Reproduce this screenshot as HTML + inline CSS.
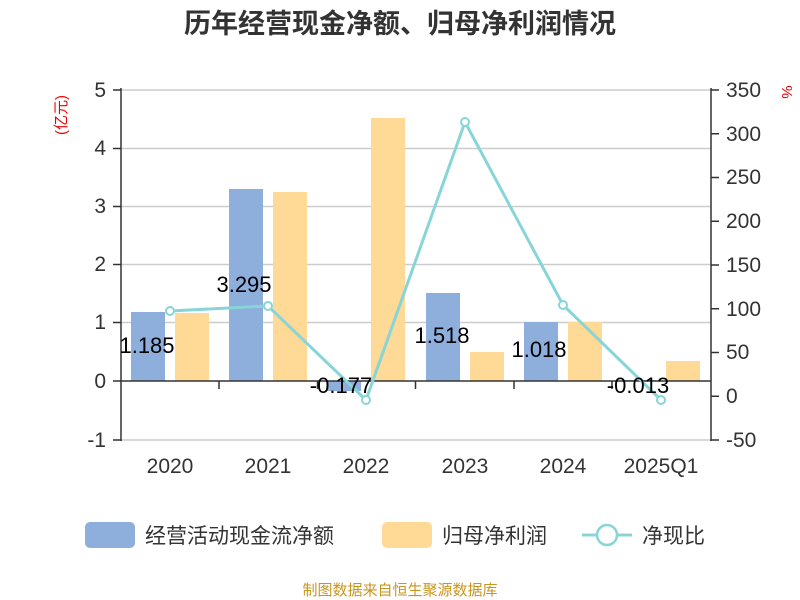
<!DOCTYPE html>
<html><head><meta charset="utf-8"><style>
body{margin:0;background:#fff;}
svg{display:block;font-family:"Liberation Sans","Noto Sans CJK SC",sans-serif;}
</style></head><body>
<svg width="800" height="600" viewBox="0 0 800 600">
<text x="400" y="33" text-anchor="middle" font-size="27" font-weight="bold" fill="#333">历年经营现金净额、归母净利润情况</text>
<g stroke="#ccc" stroke-width="1.5">
<line x1="121" x2="711" y1="90" y2="90"/><line x1="121" x2="711" y1="148.5" y2="148.5"/>
<line x1="121" x2="711" y1="206.5" y2="206.5"/><line x1="121" x2="711" y1="264.5" y2="264.5"/>
<line x1="121" x2="711" y1="322.5" y2="322.5"/><line x1="121" x2="711" y1="440" y2="440"/>
</g>
<g fill="#8eaedb">
<rect x="131" y="312" width="34" height="69"/><rect x="229" y="189" width="34" height="192"/>
<rect x="327" y="381" width="34" height="10"/><rect x="426" y="293" width="34" height="88"/>
<rect x="524" y="322" width="34" height="59"/><rect x="622" y="380" width="34" height="1"/>
</g>
<g fill="#ffd996">
<rect x="175" y="313" width="34" height="68"/><rect x="273" y="192" width="34" height="189"/>
<rect x="371" y="118" width="34" height="263"/><rect x="470" y="352" width="34" height="29"/>
<rect x="568" y="322" width="34" height="59"/><rect x="666" y="361" width="34" height="20"/>
</g>
<g stroke="#333" stroke-width="1.5" fill="none">
<line x1="121" y1="88" x2="121" y2="441"/><line x1="711" y1="88" x2="711" y2="441"/>
<line x1="121" y1="381" x2="711" y2="381"/>
<path d="M113 90H121M113 148.5H121M113 206.5H121M113 264.5H121M113 322.5H121M113 381H121M113 440H121"/>
<path d="M711 90H719M711 133.75H719M711 177.5H719M711 221.25H719M711 265H719M711 308.75H719M711 352.5H719M711 396.25H719M711 440H719"/>
<path d="M219 381V389M317.5 381V389M415.5 381V389M514 381V389M612 381V389"/>
</g>
<g font-size="21" fill="#333" text-anchor="end">
<text x="106" y="97">5</text><text x="106" y="155">4</text><text x="106" y="213">3</text>
<text x="106" y="271">2</text><text x="106" y="329">1</text><text x="106" y="388">0</text><text x="106" y="447">-1</text>
</g>
<g font-size="21" fill="#333" text-anchor="start">
<text x="726" y="97">350</text><text x="726" y="141">300</text><text x="726" y="184">250</text>
<text x="726" y="228">200</text><text x="726" y="272">150</text><text x="726" y="316">100</text>
<text x="726" y="359">50</text><text x="726" y="403">0</text><text x="726" y="447">-50</text>
</g>
<g font-size="21" fill="#333" text-anchor="middle">
<text x="170" y="473">2020</text><text x="268" y="473">2021</text><text x="366" y="473">2022</text>
<text x="465" y="473">2023</text><text x="563" y="473">2024</text><text x="661" y="473">2025Q1</text>
</g>
<text transform="translate(66,115) rotate(-90)" font-size="15" fill="#e00" text-anchor="middle">(亿元)</text>
<text transform="translate(782,92) rotate(90)" font-size="15" fill="#e00" text-anchor="middle">%</text>
<polyline points="170,311 268,306 366,400 465,122 563,305 661,400" fill="none" stroke="#88d5d8" stroke-width="3"/>
<g fill="#fff" stroke="#88d5d8" stroke-width="2">
<circle cx="170" cy="311" r="4"/><circle cx="268" cy="306" r="4"/><circle cx="366" cy="400" r="4"/>
<circle cx="465" cy="122" r="4"/><circle cx="563" cy="305" r="4"/><circle cx="661" cy="400" r="4"/>
</g>
<g font-size="22" fill="#000" text-anchor="middle">
<text x="147" y="353">1.185</text><text x="244" y="292">3.295</text><text x="341" y="393">-0.177</text>
<text x="442" y="343">1.518</text><text x="539" y="357">1.018</text><text x="638" y="393">-0.013</text>
</g>
<rect x="85" y="522" width="50" height="26" rx="5" fill="#8eaedb"/>
<text x="145" y="543" font-size="21" fill="#333">经营活动现金流净额</text>
<rect x="382" y="522" width="50" height="26" rx="5" fill="#ffd996"/>
<text x="442" y="543" font-size="21" fill="#333">归母净利润</text>
<line x1="582" y1="535" x2="632" y2="535" stroke="#88d5d8" stroke-width="3"/>
<circle cx="607" cy="535" r="10" fill="#fff" stroke="#88d5d8" stroke-width="2.5"/>
<text x="642" y="543" font-size="21" fill="#333">净现比</text>
<text x="400" y="595" font-size="15" fill="#c8961e" text-anchor="middle">制图数据来自恒生聚源数据库</text>
</svg>
</body></html>
